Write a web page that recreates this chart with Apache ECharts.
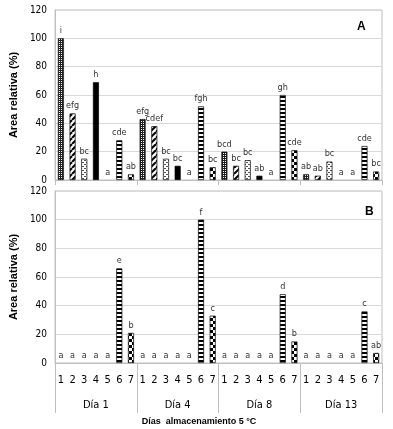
<!DOCTYPE html>
<html>
<head>
<meta charset="utf-8">
<script src="https://cdn.jsdelivr.net/npm/echarts@6/dist/echarts.min.js"></script>
<style>
  html, body { margin: 0; padding: 0; background: #fff; }
  #chart { width: 393px; height: 429px; }
</style>
</head>
<body>
<div id="chart"></div>
<script>
// categorias y grupos
var tratamientos = ['1', '2', '3', '4', '5', '6', '7'];
var dias = ['Día 1', 'Día 4', 'Día 8', 'Día 13'];

// Panel A: area relativa (%)
var aDia1 = [100, 47, 15, 69, 0, 28, 4];
var aDia4 = [43, 38, 15, 10, 0, 52, 9];
var aDia8 = [20, 10, 14, 3, 0, 60, 21];
var aDia13 = [4, 3, 13, 0, 0, 24, 6];
var letrasA1 = ['i', 'efg', 'bc', 'h', 'a', 'cde', 'ab'];
var letrasA4 = ['efg', 'cdef', 'bc', 'bc', 'a', 'fgh', 'bc'];
var letrasA8 = ['bcd', 'bc', 'bc', 'ab', 'a', 'gh', 'cde'];
var letrasA13 = ['ab', 'ab', 'bc', 'a', 'a', 'cde', 'bc'];

// Panel B
var bDia1 = [0, 0, 0, 0, 0, 66, 21];
var bDia4 = [0, 0, 0, 0, 0, 100, 33];
var bDia8 = [0, 0, 0, 0, 0, 48, 15];
var bDia13 = [0, 0, 0, 0, 0, 36, 7];
var letrasB1 = ['a', 'a', 'a', 'a', 'a', 'e', 'b'];
var letrasB4 = ['a', 'a', 'a', 'a', 'a', 'f', 'c'];
var letrasB8 = ['a', 'a', 'a', 'a', 'a', 'd', 'b'];
var letrasB13 = ['a', 'a', 'a', 'a', 'a', 'c', 'ab'];

var yTicks = { min: 0, max: 120, interval: 20 };

// tramas tipo Excel
function trama(w, h, draw) {
  var c = document.createElement('canvas');
  c.width = w; c.height = h;
  var g = c.getContext('2d');
  g.fillStyle = '#fff';
  g.fillRect(0, 0, w, h);
  g.fillStyle = '#000';
  g.strokeStyle = '#000';
  draw(g);
  return { image: c, repeat: 'repeat' };
}
var tramas = [
  trama(2, 2, function (g) { g.fillStyle = '#222'; g.fillRect(0, 0, 2, 1); g.fillRect(0, 1, 1, 1); }),
  trama(6, 6, function (g) {
    g.lineWidth = 2;
    for (var k = -6; k <= 6; k += 6) { g.beginPath(); g.moveTo(k, 6); g.lineTo(k + 6, 0); g.stroke(); }
  }),
  trama(4, 4, function (g) { g.fillStyle = '#555'; g.fillRect(0, 0, 2, 1); g.fillRect(2, 2, 2, 1); }),
  '#000',
  '#7f7f7f',
  trama(1, 4, function (g) { g.fillRect(0, 0, 1, 2); }),
  trama(6, 6, function (g) { g.fillRect(0, 0, 3, 3); g.fillRect(3, 3, 3, 3); })
];

function armar(valores, letras) {
  var out = [];
  for (var i = 0; i < valores.length; i++) {
    out.push({
      value: valores[i],
      letra: letras[i],
      itemStyle: { color: tramas[i % 7], borderWidth: valores[i] === 0 ? 0 : 0.7 }
    });
  }
  return out;
}

var datosA = armar(aDia1.concat(aDia4, aDia8, aDia13), letrasA1.concat(letrasA4, letrasA8, letrasA13));
var datosB = armar(bDia1.concat(bDia4, bDia8, bDia13), letrasB1.concat(letrasB4, letrasB8, letrasB13));
var categorias = [];
dias.forEach(function () { categorias = categorias.concat(tratamientos); });

var fuente = 'DejaVu Sans Condensed, Liberation Sans, sans-serif';
var gris = '#d9d9d9';

function ejeY(grid) {
  return {
    type: 'value', gridIndex: grid,
    min: yTicks.min, max: yTicks.max, interval: yTicks.interval,
    name: 'Area relativa (%)', nameLocation: 'middle', nameGap: 21,
    nameTextStyle: { fontFamily: 'Liberation Sans, sans-serif', fontWeight: 'bold', fontSize: 11, color: '#000' },
    axisLine: { show: true, lineStyle: { color: '#bfbfbf' } },
    axisTick: { show: false },
    axisLabel: { fontFamily: fuente, fontSize: 10, color: '#000', margin: 8 },
    splitLine: { lineStyle: { color: gris } }
  };
}

function serie(idx, datos) {
  return {
    type: 'bar', xAxisIndex: idx * 2, yAxisIndex: idx,
    data: datos, barWidth: 6,
    itemStyle: { borderColor: '#000' },
    label: {
      show: true, position: 'top', distance: 3,
      fontFamily: fuente, fontSize: 9, color: '#333',
      formatter: function (p) { return p.data.letra; }
    },
    animation: false
  };
}

var chart = echarts.init(document.getElementById('chart'));
var option = {
  animation: false,
  grid: [
    { left: 48, right: 11, top: 10, height: 170, show: true, borderColor: '#bfbfbf', borderWidth: 1 },
    { left: 48, right: 11, top: 191, height: 172, show: true, borderColor: '#bfbfbf', borderWidth: 1 }
  ],
  xAxis: [
    {
      type: 'category', gridIndex: 0, data: categorias,
      axisLine: { lineStyle: { color: '#bfbfbf' } },
      axisTick: { show: false }, axisLabel: { show: false }
    },
    {
      type: 'category', gridIndex: 0, data: dias, position: 'bottom',
      axisLine: { show: false },
      axisTick: { show: true, length: 5, lineStyle: { color: '#bfbfbf' } },
      axisLabel: { show: false }
    },
    {
      type: 'category', gridIndex: 1, data: categorias,
      axisLine: { lineStyle: { color: '#bfbfbf' } },
      axisTick: { show: false },
      axisLabel: { interval: 0, fontFamily: fuente, fontSize: 11, color: '#000', margin: 12 }
    },
    {
      type: 'category', gridIndex: 1, data: dias, position: 'bottom',
      axisLine: { show: false },
      axisTick: { show: true, length: 50, lineStyle: { color: '#bfbfbf' } },
      axisLabel: { interval: 0, fontFamily: fuente, fontSize: 11, color: '#000', margin: 37 }
    }
  ],
  yAxis: [ejeY(0), ejeY(1)],
  series: [serie(0, datosA), serie(1, datosB)],
  graphic: [
    { type: 'text', left: 357, top: 21, style: { text: 'A', font: "bold 12px 'Liberation Sans'", fill: '#000' } },
    { type: 'text', left: 365, top: 206, style: { text: 'B', font: "bold 12px 'Liberation Sans'", fill: '#000' } },
    { type: 'text', x: 199, y: 417, style: { text: 'Días  almacenamiento 5 °C', align: 'center', font: "bold 9px 'Liberation Sans'", fill: '#000' } }
  ]
};
chart.setOption(option);
</script>
</body>
</html>
